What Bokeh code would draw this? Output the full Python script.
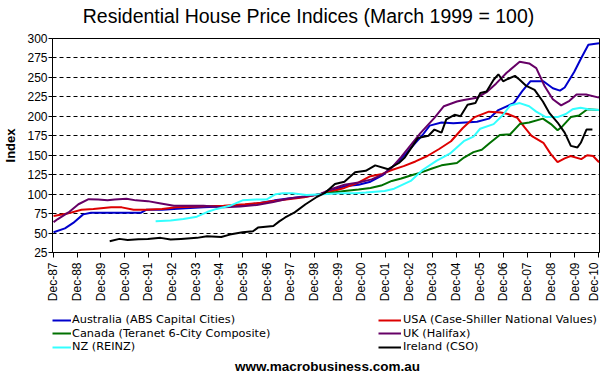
import math
from bokeh.plotting import figure
from bokeh.layouts import column
from bokeh.models import FixedTicker, Legend, LegendItem, Label, Range1d
from bokeh.embed import file_html
from bokeh.resources import INLINE

FONT = "Liberation Sans"
LEGEND_FONT = "DejaVu Sans"

title_text = "Residential House Price Indices (March 1999 = 100)"
y_label = "Index"
footer_text = "www.macrobusiness.com.au"

tick_years = [y + 11 / 12 for y in range(1987, 2011)]
tick_labels = ["Dec-87", "Dec-88", "Dec-89", "Dec-90", "Dec-91", "Dec-92", "Dec-93",
               "Dec-94", "Dec-95", "Dec-96", "Dec-97", "Dec-98", "Dec-99", "Dec-00",
               "Dec-01", "Dec-02", "Dec-03", "Dec-04", "Dec-05", "Dec-06", "Dec-07",
               "Dec-08", "Dec-09", "Dec-10"]
y_ticks = [25, 50, 75, 100, 125, 150, 175, 200, 225, 250, 275, 300]

# Australia (ABS Capital Cities)
aus_t = [1987.92, 1988.4, 1988.75, 1989.17, 1989.5, 1990.5, 1991.6, 1991.85, 1992.5, 1993.5,
         1994.25, 1995.0, 1995.75, 1996.5, 1997.25, 1998.0, 1998.6, 1999.17, 1999.6, 2000.2,
         2000.8, 2001.3, 2001.8, 2002.3, 2002.8, 2003.2, 2003.5, 2003.8, 2004.3, 2004.8,
         2005.3, 2005.8, 2006.3, 2006.7, 2007.35, 2007.7, 2008.05, 2008.6, 2009.0, 2009.3,
         2009.5, 2009.9, 2010.2, 2010.5, 2010.95]
aus_v = [51, 56, 63, 74, 76, 76, 76, 80, 80, 82,
         83, 84, 85, 88, 92, 95, 97, 100, 104, 110,
         112, 116, 124, 137, 152, 166, 176, 188, 192, 191,
         192, 193, 197, 208, 217, 232, 245, 245, 236, 233,
         237, 257, 275, 292, 294]

# USA (Case-Shiller National Values)
usa_t = [1987.92, 1988.5, 1989.1, 1989.6, 1990.35, 1990.8, 1991.3, 1991.8, 1992.5, 1993.1,
         1994.0, 1995.1, 1996.0, 1996.7, 1997.3, 1998.0, 1998.5, 1999.17, 1999.6, 2000.2,
         2000.8, 2001.3, 2001.8, 2002.2, 2002.7, 2003.2, 2003.7, 2004.2, 2004.7, 2005.2,
         2005.7, 2006.3, 2006.8, 2007.1, 2007.5, 2007.8, 2008.1, 2008.6, 2008.9, 2009.2,
         2009.5, 2009.75, 2010.2, 2010.45, 2010.7, 2010.95]
usa_v = [72, 75, 80, 81, 83, 83, 80, 80, 81, 83,
         84, 85, 87, 89, 91.5, 94, 96, 100, 103, 108,
         115, 123, 126, 131, 136, 142, 149, 158, 168, 185,
         199, 206, 205, 203, 198, 186, 175, 166, 152, 141,
         146, 149, 145, 150, 149, 141]

# Canada (Teranet 6-City Composite)
can_t = [1999.0, 1999.5, 2000.2, 2000.8, 2001.3, 2001.75, 2002.2, 2002.6, 2003.0, 2003.45,
         2003.9, 2004.3, 2004.95, 2005.25, 2005.65, 2006.0, 2006.35, 2006.76, 2007.2, 2007.6,
         2008.0, 2008.58, 2008.92, 2009.2, 2009.4, 2009.76, 2010.1, 2010.46, 2010.95]
can_v = [99, 101, 104, 106, 108, 111, 117, 120, 124, 128,
         133, 137, 140, 147, 154, 157, 166, 176, 177, 190,
         192, 197, 190, 182, 187, 199, 201, 209, 208]

# UK (Halifax)
uk_t = [1987.92, 1988.1, 1988.55, 1988.97, 1989.4, 1989.8, 1990.2, 1990.5, 1991.0, 1991.4,
        1991.9, 1992.45, 1993.0, 1993.6, 1994.25, 1995.1, 1995.8, 1996.5, 1997.2, 1997.8,
        1998.5, 1999.17, 1999.6, 2000.2, 2000.8, 2001.35, 2001.8, 2002.2, 2002.6, 2003.0,
        2003.4, 2003.7, 2004.0, 2004.4, 2004.95, 2005.24, 2005.8, 2006.2, 2006.6, 2007.05,
        2007.6, 2008.0, 2008.3, 2008.65, 2009.0, 2009.35, 2009.7, 2010.0, 2010.4, 2010.95]
uk_v = [64, 68, 76.5, 87, 93.5, 93, 92, 93, 94, 92,
        91, 88, 85, 85, 85, 83, 84, 86, 90, 94,
        97, 100, 106, 112, 115, 119, 125, 134, 148, 163,
        178, 188, 198, 213, 219, 221, 224, 231, 242, 256,
        270, 268, 262, 239, 222, 214, 220, 228, 228, 224]

# NZ (REINZ)
nz_t = [1992.23, 1992.86, 1993.4, 1993.97, 1994.4, 1994.8, 1995.36, 1995.9, 1996.47, 1996.9,
        1997.3, 1997.6, 1998.0, 1998.6, 1999.3, 2000.0, 2000.65, 2001.1, 2001.9, 2002.3,
        2003.0, 2003.5, 2004.1, 2004.65, 2005.24, 2005.65, 2005.93, 2006.5, 2006.9, 2007.2,
        2007.6, 2008.0, 2008.3, 2008.7, 2009.2, 2009.55, 2009.83, 2010.17, 2010.5, 2010.95]
nz_v = [65, 66, 68, 71, 77, 81, 85, 92, 93, 93,
        100, 101, 101, 99, 100, 101, 101, 102, 104, 107,
        117, 131, 143, 152, 168, 174, 184, 190, 202, 214,
        217, 213, 206, 199, 199, 203, 209, 211, 209, 208]

# Ireland (CSO)
ire_t = [1990.29, 1990.7, 1991.05, 1991.5, 1991.9, 1992.44, 1992.86, 1993.3, 1993.97, 1994.4,
         1995.0, 1995.36, 1995.9, 1996.34, 1996.55, 1997.2, 1997.45, 1997.7, 1998.1, 1998.56,
         1999.0, 1999.4, 1999.8, 2000.2, 2000.65, 2001.1, 2001.5, 2002.05, 2002.5, 2002.75,
         2003.3, 2003.75, 2004.0, 2004.3, 2004.5, 2004.85, 2005.1, 2005.4, 2005.73, 2005.94,
         2006.2, 2006.5, 2006.7, 2006.9, 2007.1, 2007.4, 2007.6, 2007.88, 2008.23, 2008.58,
         2008.86, 2009.2, 2009.5, 2009.76, 2010.04, 2010.18, 2010.42, 2010.67]
ire_v = [39.5, 42.5, 41.2, 42, 42.5, 43.8, 41.6, 42.5, 43.8, 45.8,
         45, 48, 51, 52.3, 57, 59, 65, 70, 76.5, 87,
         95.7, 102, 113, 116, 128, 130, 137, 132, 140, 147,
         172, 175, 183, 179, 196, 202, 200, 215, 217, 230,
         232, 247, 254, 245, 248, 252, 247, 239, 234, 219,
         204, 192, 179, 162, 160, 166, 183, 183]

series = [
    ("Australia (ABS Capital Cities)", aus_t, aus_v, "#0000CC"),
    ("USA (Case-Shiller National Values)", usa_t, usa_v, "#DD0000"),
    ("Canada (Teranet 6-City Composite)", can_t, can_v, "#007000"),
    ("UK (Halifax)", uk_t, uk_v, "#660066"),
    ("NZ (REINZ)", nz_t, nz_v, "#33FFFF"),
    ("Ireland (CSO)", ire_t, ire_v, "#000000"),
]

BORDER_L, BORDER_R = 47, 1


def strip_fig(h):
    f = figure(width=600, height=h, output_backend="svg", toolbar_location=None, title=None,
               x_range=Range1d(0, 1), y_range=Range1d(0, 1),
               x_axis_type=None, y_axis_type=None,
               min_border_left=BORDER_L, min_border_right=BORDER_R,
               min_border_top=0, min_border_bottom=0)
    f.outline_line_color = None
    f.background_fill_color = "white"
    f.border_fill_color = "white"
    return f


# ---- title strip ----
p0 = strip_fig(30)
p0.add_layout(Label(x=256, y=15, x_units="screen", y_units="screen", text=title_text,
                    text_align="center", text_baseline="middle",
                    text_font=FONT, text_font_size="19.5px", text_color="black"))

# ---- main chart ----
p = figure(width=600, height=278, output_backend="svg", toolbar_location=None, title=None,
           x_range=Range1d(1987.875, 2010.97), y_range=Range1d(25, 300),
           min_border_left=BORDER_L, min_border_right=BORDER_R,
           min_border_top=8, min_border_bottom=56)
p.background_fill_color = "white"
p.border_fill_color = "white"
p.outline_line_color = "black"
p.outline_line_alpha = 1.0
p.outline_line_width = 1

for name, t, v, col in series:
    p.line(t, v, line_color=col, line_width=2)

p.xaxis.ticker = FixedTicker(ticks=tick_years)
p.xaxis.major_label_overrides = dict(zip(tick_years, tick_labels))
p.xaxis.major_label_orientation = math.pi / 2
p.xaxis.major_tick_out = 5
p.xaxis.major_tick_in = 0
p.xaxis.minor_tick_line_color = None
p.xaxis.major_label_standoff = 5
p.xaxis.major_label_text_font = FONT
p.xaxis.major_label_text_font_size = "12px"
p.xaxis.major_label_text_color = "black"
p.xaxis.axis_line_color = "black"
p.xaxis.major_tick_line_color = "black"

p.yaxis.ticker = FixedTicker(ticks=y_ticks)
p.yaxis.axis_label = y_label
p.yaxis.axis_label_text_font = FONT
p.yaxis.axis_label_text_font_style = "bold"
p.yaxis.axis_label_text_font_size = "13px"
p.yaxis.axis_label_text_color = "black"
p.yaxis.axis_label_standoff = 6
p.yaxis.major_tick_out = 4
p.yaxis.major_tick_in = 0
p.yaxis.minor_tick_line_color = None
p.yaxis.major_label_standoff = 1
p.yaxis.major_label_text_font = FONT
p.yaxis.major_label_text_font_size = "12px"
p.yaxis.major_label_text_color = "black"
p.yaxis.axis_line_color = "black"
p.yaxis.major_tick_line_color = "black"

p.xgrid.visible = False
p.ygrid.grid_line_color = "black"
p.ygrid.grid_line_dash = "4 3"
p.ygrid.grid_line_width = 1

# ---- legend + footer strip ----
# The strip repeats the series with the same styles (out of its own view) so that
# the legend keys take the series' line styles.
p2 = strip_fig(66)
key_renderers = {name: p2.line(t, v, line_color=col, line_width=2) for name, t, v, col in series}

# (name, column x, row bottom, key length, standoff)
legend_slots = [
    ("Australia (ABS Capital Cities)", 0, 47.5, 19, 1),
    ("Canada (Teranet 6-City Composite)", 0, 34, 19, 1),
    ("NZ (REINZ)", 0, 20.5, 19, 1),
    ("USA (Case-Shiller National Values)", 326, 47.5, 23, 2),
    ("UK (Halifax)", 326, 34, 23, 2),
    ("Ireland (CSO)", 326, 20.5, 23, 2),
]
for name, vx, vy, gw, so in legend_slots:
    leg = Legend(items=[LegendItem(label=name, renderers=[key_renderers[name]])],
                 location=(vx, vy), orientation="vertical",
                 glyph_width=gw, glyph_height=14, label_height=14, label_standoff=so,
                 spacing=0, padding=0, margin=0,
                 label_text_font=LEGEND_FONT, label_text_font_size="11.3px",
                 label_text_color="black",
                 background_fill_alpha=0, border_line_alpha=0)
    p2.add_layout(leg)

p2.add_layout(Label(x=275, y=8, x_units="screen", y_units="screen", text=footer_text,
                    text_align="center", text_baseline="middle",
                    text_font=FONT, text_font_size="13.5px", text_font_style="bold",
                    text_color="black"))

layout = column(p0, p, p2, spacing=0)
open("out.html", "w").write(file_html(layout, INLINE))
